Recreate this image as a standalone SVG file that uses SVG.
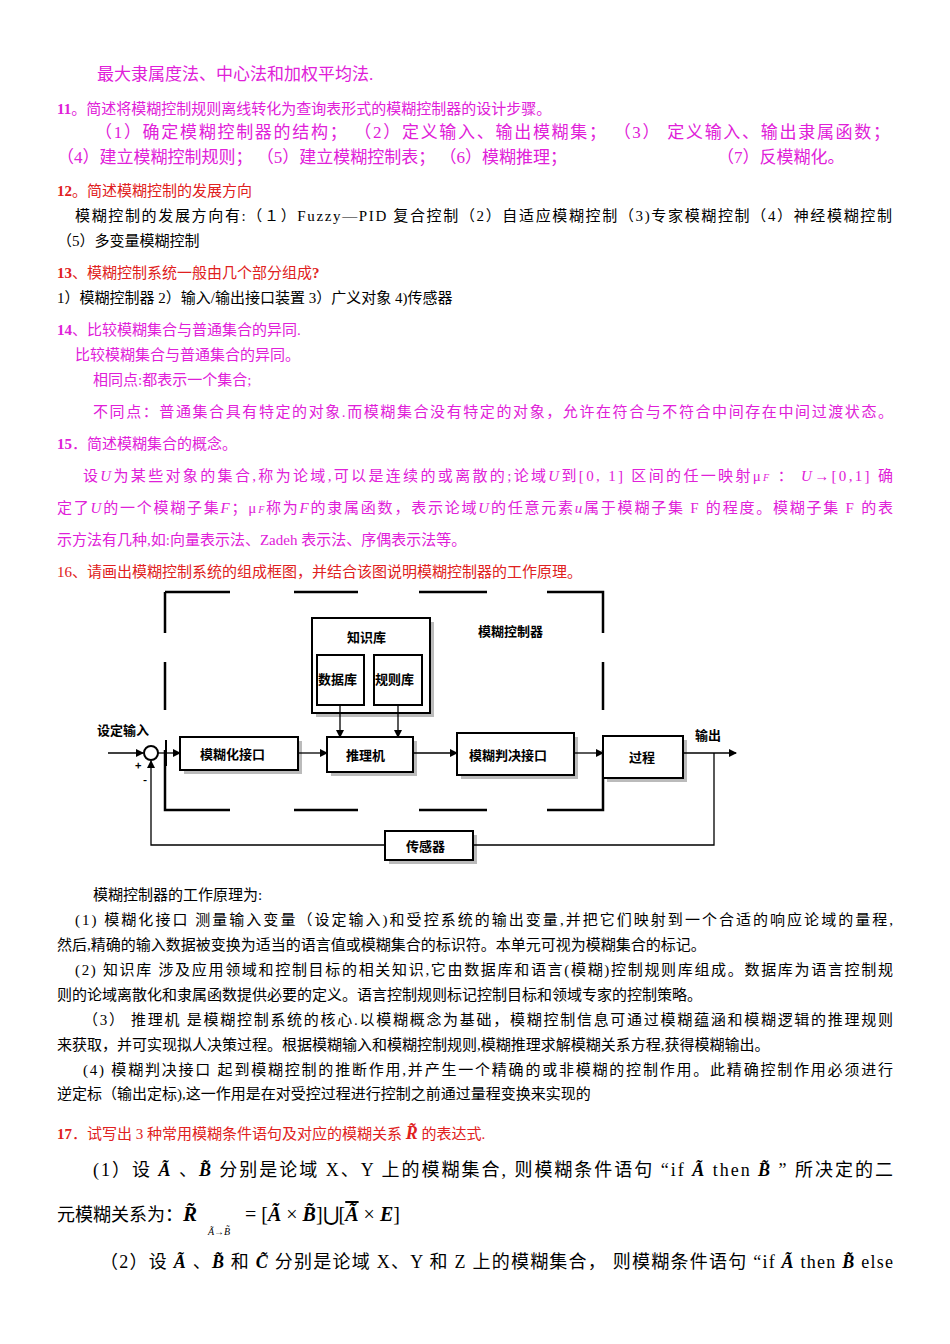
<svg xmlns="http://www.w3.org/2000/svg" width="950" height="1344" viewBox="0 0 950 1344">
<style>
svg{font-size:15px}
text{font-family:"Liberation Serif","Noto Sans CJK SC",serif;fill:#000}
.m{fill:#E020D8}.r{fill:#E02020}
.bx{fill:#fff;stroke:#000;stroke-width:2}
.sh{fill:#bbb}
.d{font-size:13px}
.d text{font-family:"Noto Sans CJK SC",sans-serif;font-weight:bold}
.ln{stroke:#000;stroke-width:1.3;fill:none}
.ds{stroke:#000;stroke-width:2.5;fill:none}
</style>
<defs><marker id="a" markerWidth="8" markerHeight="8" refX="7" refY="4" orient="auto" markerUnits="userSpaceOnUse"><path d="M0,0L8,4L0,8z"/></marker></defs>
<rect width="950" height="1344" fill="#fff"/>
<text class="m" x="97" y="80" font-size="17">最大隶属度法、中心法和加权平均法.</text>
<text class="m" x="57" y="114"><tspan font-weight="bold">11</tspan>。简述将模糊控制规则离线转化为查询表形式的模糊控制器的设计步骤。</text>
<text class="m" x="95" y="138" font-size="17" textLength="795">（1）确定模糊控制器的结构；  （2）定义输入、输出模糊集；  （3） 定义输入、输出隶属函数；</text>
<text class="m" x="57" y="163" font-size="17">（4）建立模糊控制规则；  （5）建立模糊控制表；  （6）模糊推理；</text>
<text class="m" x="717" y="163" font-size="17">（7）反模糊化。</text>
<text class="r" x="57" y="196"><tspan font-weight="bold">12</tspan>。简述模糊控制的发展方向</text>
<text x="75" y="221" textLength="817">模糊控制的发展方向有:（１）Fuzzy—PID 复合控制（2）自适应模糊控制（3)专家模糊控制（4）神经模糊控制</text>
<text x="57" y="246">（5）多变量模糊控制</text>
<text class="r" x="57" y="278"><tspan font-weight="bold">13</tspan>、模糊控制系统一般由几个部分组成<tspan font-weight="bold">?</tspan></text>
<text x="57" y="303">1）模糊控制器 2）输入/输出接口装置 3）广义对象 4)传感器</text>
<text class="m" x="57" y="335"><tspan font-weight="bold">14</tspan>、比较模糊集合与普通集合的异同.</text>
<text class="m" x="75" y="360">比较模糊集合与普通集合的异同。</text>
<text class="m" x="93" y="385">相同点:都表示一个集合;</text>
<text class="m" x="93" y="417" textLength="800">不同点：普通集合具有特定的对象.而模糊集合没有特定的对象，允许在符合与不符合中间存在中间过渡状态。</text>
<text class="m" x="57" y="449"><tspan font-weight="bold">15</tspan>．简述模糊集合的概念。</text>
<text class="m" x="83" y="481" textLength="810">设<tspan font-style="italic">U</tspan>为某些对象的集合,称为论域,可以是连续的或离散的;论域<tspan font-style="italic">U</tspan>到[0, 1] 区间的任一映射μ<tspan font-size="10" font-style="italic">F</tspan> ： <tspan font-style="italic">U</tspan>→[0,1] 确</text>
<text class="m" x="57" y="513" textLength="836">定了<tspan font-style="italic">U</tspan>的一个模糊子集<tspan font-style="italic">F</tspan>；μ<tspan font-size="10" font-style="italic">F</tspan>称为<tspan font-style="italic">F</tspan>的隶属函数，表示论域<tspan font-style="italic">U</tspan>的任意元素<tspan font-style="italic">u</tspan>属于模糊子集 F 的程度。模糊子集 F 的表</text>
<text class="m" x="57" y="545">示方法有几种,如:向量表示法、Zadeh 表示法、序偶表示法等。</text>
<text class="r" x="57" y="577">16、请画出模糊控制系统的组成框图，并结合该图说明模糊控制器的工作原理。</text>
<g class="d">
<g id="frame"><path class="ds" d="M165,592H230M294,592H358M419,592H487M547,592H603V633M603,662V710M603,750V810H547M487,810H419M358,810H294M230,810H165V750M165,710V662M165,633V592"/><text x="478" y="636" font-weight="normal">模糊控制器</text></g>
<g id="kb"><rect class="sh" x="316" y="622" width="118" height="95"/><rect class="bx" x="312" y="618" width="118" height="95"/><text x="347" y="642">知识库</text></g>
<g id="db"><rect class="bx" x="317" y="655" width="47" height="50"/><text x="318" y="684">数据库</text></g>
<g id="rb"><rect class="bx" x="374" y="655" width="48" height="50"/><text x="375" y="684">规则库</text></g>
<g id="fz"><rect class="sh" x="184" y="741" width="118" height="33"/><rect class="bx" x="180" y="737" width="118" height="33"/><text x="200" y="759">模糊化接口</text></g>
<g id="inf"><rect class="sh" x="331" y="741" width="86" height="35"/><rect class="bx" x="327" y="737" width="86" height="35"/><text x="346" y="760">推理机</text></g>
<g id="dfz"><rect class="sh" x="461" y="737" width="117" height="42"/><rect class="bx" x="457" y="733" width="117" height="42"/><text x="469" y="760">模糊判决接口</text></g>
<g id="proc"><rect class="sh" x="607" y="740" width="80" height="42"/><rect class="bx" x="603" y="736" width="80" height="42"/><text x="629" y="762">过程</text></g>
<g id="sensor"><rect class="sh" x="389" y="835" width="88" height="29"/><rect class="bx" x="385" y="831" width="88" height="29"/><text x="406" y="851">传感器</text></g>
<g id="sum"><circle cx="151" cy="753" r="7" fill="#fff" stroke="#000" stroke-width="2"/><text x="135" y="770" font-size="11">+</text><text x="143" y="784" font-size="11">-</text></g>
<text x="97" y="735" font-weight="normal">设定输入</text>
<text x="695" y="740" font-weight="normal">输出</text>
<g id="connectors">
<path class="ln" d="M108,753H143" marker-end="url(#a)"/>
<path class="ln" d="M158,753H180" marker-end="url(#a)"/>
<line x1="166" y1="740" x2="166" y2="766" stroke="#000" stroke-width="2"/>
<path class="ln" d="M298,753H327" marker-end="url(#a)"/>
<path class="ln" d="M413,753H457" marker-end="url(#a)"/>
<path class="ln" d="M574,753H603" marker-end="url(#a)"/>
<path class="ln" d="M683,753H736" marker-end="url(#a)"/>
<path class="ln" d="M340,705V737" marker-end="url(#a)"/>
<path class="ln" d="M398,705V737" marker-end="url(#a)"/>
<path class="ln" d="M714,753V845H473M385,845H151V761" marker-end="url(#a)"/>
</g>
</g>
<text x="93" y="900">模糊控制器的工作原理为:</text>
<text x="75" y="925" textLength="818">(1)  模糊化接口 测量输入变量（设定输入)和受控系统的输出变量,并把它们映射到一个合适的响应论域的量程,</text>
<text x="57" y="950">然后,精确的输入数据被变换为适当的语言值或模糊集合的标识符。本单元可视为模糊集合的标记。</text>
<text x="75" y="975" textLength="818">(2) 知识库 涉及应用领域和控制目标的相关知识,它由数据库和语言(模糊)控制规则库组成。数据库为语言控制规</text>
<text x="57" y="1000">则的论域离散化和隶属函数提供必要的定义。语言控制规则标记控制目标和领域专家的控制策略。</text>
<text x="83" y="1025" textLength="810">（3） 推理机 是模糊控制系统的核心.以模糊概念为基础，模糊控制信息可通过模糊蕴涵和模糊逻辑的推理规则</text>
<text x="57" y="1050">来获取，并可实现拟人决策过程。根据模糊输入和模糊控制规则,模糊推理求解模糊关系方程,获得模糊输出。</text>
<text x="83" y="1075" textLength="810">(4) 模糊判决接口 起到模糊控制的推断作用,并产生一个精确的或非模糊的控制作用。此精确控制作用必须进行</text>
<text x="57" y="1099">逆定标（输出定标),这一作用是在对受控过程进行控制之前通过量程变换来实现的</text>
<text class="r" x="57" y="1139"><tspan font-weight="bold">17</tspan>．试写出 3 种常用模糊条件语句及对应的模糊关系 <tspan font-weight="bold" font-style="italic" font-size="18">R̃</tspan> 的表达式.</text>
<text x="93" y="1176" font-size="18" textLength="800">(1）设 <tspan font-weight="bold" font-style="italic">Ã</tspan> 、<tspan font-weight="bold" font-style="italic">B̃</tspan> 分别是论域 X、Y 上的模糊集合, 则模糊条件语句 “if  <tspan font-weight="bold" font-style="italic">Ã</tspan>  then  <tspan font-weight="bold" font-style="italic">B̃</tspan> ”  所决定的二</text>
<text x="57" y="1221" font-size="18">元模糊关系为：<tspan font-weight="bold" font-style="italic" font-size="21">R̃</tspan></text>
<text x="208" y="1235" font-size="10" font-style="italic">Ã→B̃</text>
<text x="245" y="1221" font-size="20">= [<tspan font-weight="bold" font-style="italic">Ã</tspan> × <tspan font-weight="bold" font-style="italic">B̃</tspan>]⋃[<tspan font-weight="bold" font-style="italic" text-decoration="overline">Ã</tspan> × <tspan font-weight="bold" font-style="italic">E</tspan>]</text>
<text x="100" y="1268" font-size="18" textLength="793">（2）设 <tspan font-weight="bold" font-style="italic">Ã</tspan> 、<tspan font-weight="bold" font-style="italic">B̃</tspan> 和 <tspan font-weight="bold" font-style="italic">C̃</tspan> 分别是论域  X、Y 和 Z 上的模糊集合，  则模糊条件语句 “if  <tspan font-weight="bold" font-style="italic">Ã</tspan>  then  <tspan font-weight="bold" font-style="italic">B̃</tspan>  else</text>
</svg>
